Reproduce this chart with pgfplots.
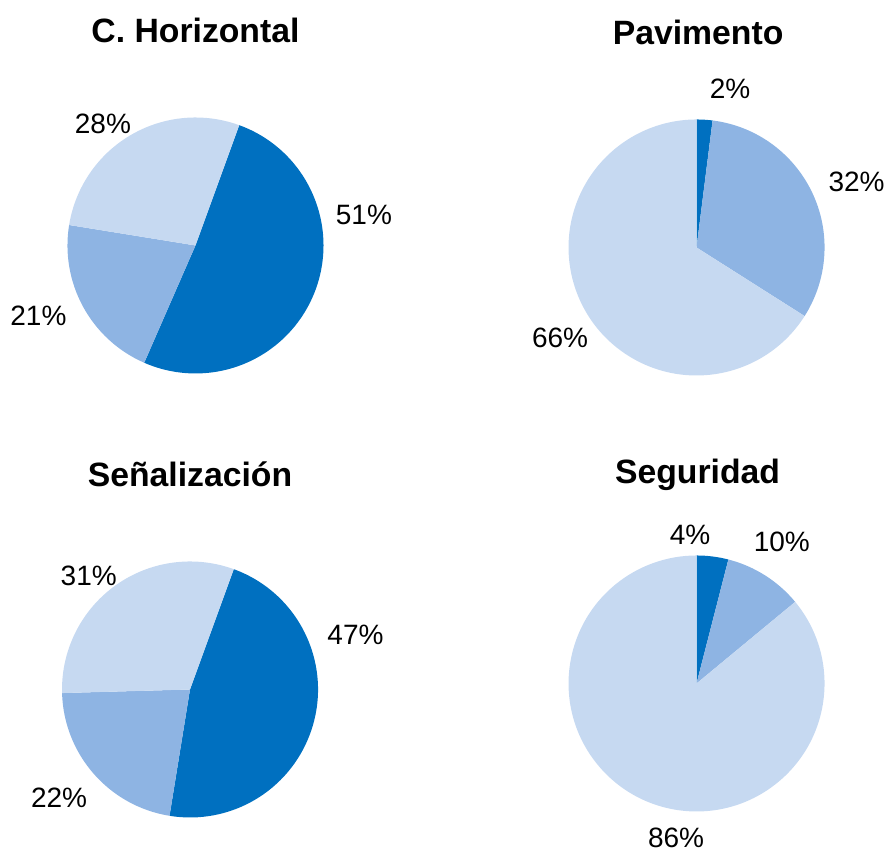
\documentclass[border=0pt]{standalone}
\usepackage{fontspec}
\setmainfont{Liberation Sans}
\usepackage{pgfplots}
\pgfplotsset{compat=1.18}

\definecolor{pieA}{HTML}{0070C0}
\definecolor{pieB}{HTML}{8EB4E3}
\definecolor{pieC}{HTML}{C6D9F1}

% radius of every pie (128 px)
\def\pieR{96pt}

% #1 = angle of the first slice, clockwise from 12 o'clock
% #2 = list of value/colour, values in percent
\newcommand{\pieslices}[2]{%
  \xdef\pieacc{#1}%
  \foreach \v/\c in {#2}{%
    \pgfmathsetmacro\pa{90-\pieacc}%
    \pgfmathsetmacro\pb{\pa-3.6*\v}%
    \edef\slice{\noexpand\fill[\c] (axis cs:0,0) -- (axis cs:{cos(\pa)},{sin(\pa)})
      arc[start angle=\pa, end angle=\pb, radius=\pieR] -- cycle;}%
    \slice
    \pgfmathsetmacro\n{\pieacc+3.6*\v}%
    \xdef\pieacc{\n}%
  }%
}

\pgfplotsset{
  pie/.style={
    hide axis, scale only axis, clip=false,
    width=192pt, height=192pt,
    xmin=-1, xmax=1, ymin=-1, ymax=1,
    anchor=center,
  },
}
\tikzset{
  lbl/.style={font=\fontsize{21}{24}\selectfont, inner sep=0pt, anchor=center},
  ttl/.style={font=\fontsize{25.3}{29}\selectfont\bfseries, inner sep=0pt, anchor=base},
}

\begin{document}
\begin{tikzpicture}
\path[use as bounding box] (0,0) rectangle (665.25pt,-639pt);

% C. Horizontal
\begin{axis}[pie, at={(146.6pt,-184.1pt)}]
  \pieslices{20}{51/pieA, 21/pieB, 28/pieC}
  \node[ttl] at (axis cs:0,1.5875) {C. Horizontal};
  \node[lbl] at (axis cs:1.316,0.238) {51\%};
  \node[lbl] at (axis cs:-1.227,-0.551) {21\%};
  \node[lbl] at (axis cs:-0.723,0.949) {28\%};
\end{axis}

% Pavimento
\begin{axis}[pie, at={(522.4pt,-185.6pt)}]
  \pieslices{0}{2/pieA, 32/pieB, 66/pieC}
  \node[ttl] at (axis cs:0.012,1.582) {Pavimento};
  \node[lbl] at (axis cs:0.262,1.238) {2\%};
  \node[lbl] at (axis cs:1.25,0.512) {32\%};
  \node[lbl] at (axis cs:-1.066,-0.703) {66\%};
\end{axis}

% Señalización
\begin{axis}[pie, at={(142.5pt,-517.1pt)}]
  \pieslices{20}{47/pieA, 22/pieB, 31/pieC}
  \node[ttl] at (axis cs:0,1.584) {Señalización};
  \node[lbl] at (axis cs:1.293,0.426) {47\%};
  \node[lbl] at (axis cs:-1.023,-0.848) {22\%};
  \node[lbl] at (axis cs:-0.791,0.887) {31\%};
\end{axis}

% Seguridad
\begin{axis}[pie, at={(522.4pt,-512.6pt)}]
  \pieslices{0}{4/pieA, 10/pieB, 86/pieC}
  \node[ttl] at (axis cs:0.008,1.564) {Seguridad};
  \node[lbl] at (axis cs:-0.051,1.160) {4\%};
  \node[lbl] at (axis cs:0.666,1.108) {10\%};
  \node[lbl] at (axis cs:-0.16,-1.205) {86\%};
\end{axis}
\end{tikzpicture}
\end{document}
